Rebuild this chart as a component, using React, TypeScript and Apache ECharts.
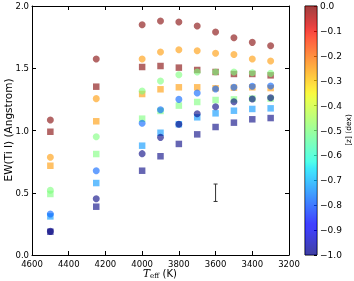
import React, { useEffect, useRef } from "react";
import * as echarts from "echarts";

const TEFF = [4500, 4250, 4000, 3900, 3800, 3700, 3600, 3500, 3400, 3300];

// metallicity of each group, [z] (dex)
const Z_SQUARES = [0, -0.25, -0.5, -0.73, -1.0];
const Z_CIRCLES = [0, -0.25, -0.5, -0.78, -1.0];

const SQ_Z0 = [0.99, 1.352, 1.51, 1.518, 1.505, 1.486, 1.47, 1.454, 1.454, 1.443];
const SQ_Z025 = [0.717, 1.074, 1.293, 1.331, 1.347, 1.347, 1.339, 1.344, 1.347, 1.341];
const SQ_Z05 = [0.49, 0.811, 1.095, 1.157, 1.2, 1.229, 1.245, 1.25, 1.256, 1.256];
const SQ_Z075 = [0.31, 0.578, 0.878, 0.982, 1.05, 1.106, 1.138, 1.159, 1.173, 1.178];
const SQ_Z1 = [0.187, 0.388, 0.677, 0.793, 0.892, 0.969, 1.028, 1.063, 1.09, 1.1];

const CI_Z0 = [1.084, 1.574, 1.85, 1.88, 1.871, 1.839, 1.791, 1.745, 1.708, 1.681];
const CI_Z025 = [0.785, 1.256, 1.574, 1.63, 1.649, 1.641, 1.62, 1.611, 1.574, 1.558];
const CI_Z05 = [0.52, 0.95, 1.317, 1.398, 1.448, 1.47, 1.47, 1.47, 1.464, 1.459];
const CI_Z075 = [0.33, 0.677, 1.058, 1.167, 1.25, 1.301, 1.333, 1.347, 1.355, 1.357];
const CI_Z1 = [0.19, 0.452, 0.814, 0.945, 1.05, 1.135, 1.191, 1.231, 1.253, 1.263];

const SQUARES = [SQ_Z0, SQ_Z025, SQ_Z05, SQ_Z075, SQ_Z1];
const CIRCLES = [CI_Z0, CI_Z025, CI_Z05, CI_Z075, CI_Z1];

// typical error bar
const ERR_X = [3600];
const ERR_Y = [0.5];
const ERR_HALF = [0.07];

const Y_TITLE = "EW(Ti I) (Angstrom)";
const CBAR_TITLE = "[z] (dex)";

const ALPHA = 0.75;

function interp(segs: number[][], x: number) {
  for (let i = 0; i < segs.length - 1; i++) {
    const [x0, y0] = segs[i];
    const [x1, y1] = segs[i + 1];
    if (x >= x0 && x <= x1) return y0 + ((y1 - y0) * (x - x0)) / (x1 - x0);
  }
  return segs[segs.length - 1][1];
}
function jet(t: number, a = ALPHA) {
  const r = interp([[0, 0], [0.35, 0], [0.66, 1], [0.89, 1], [1, 0.5]], t);
  const g = interp([[0, 0], [0.125, 0], [0.375, 1], [0.64, 1], [0.91, 0], [1, 0]], t);
  const b = interp([[0, 0.5], [0.11, 1], [0.34, 1], [0.65, 0], [1, 0]], t);
  return `rgba(${Math.round(r * 255)},${Math.round(g * 255)},${Math.round(b * 255)},${a})`;
}
const zToT = (z: number) => z + 1; // -1..0 -> 0..1

const FONT = "DejaVu Sans";
const fmtMinus = (v: number) => {
  const s = Math.abs(v) < 1e-9 ? "0.0" : v.toFixed(1);
  return s.replace("-", "\u2212");
};

export default function App() {
  const ref = useRef<HTMLDivElement>(null);
  useEffect(() => {
    if (!ref.current) return;
    const chart = echarts.init(ref.current, null, { renderer: "svg" });

    const squareSeries = SQUARES.map((vals, i) => ({
      type: "scatter",
      xAxisIndex: 0,
      yAxisIndex: 0,
      symbol: "rect",
      symbolSize: 6.5,
      itemStyle: { color: jet(zToT(Z_SQUARES[i])) },
      data: vals.map((v, j) => [TEFF[j], v]),
      z: 2,
    }));
    const circleSeries = CIRCLES.map((vals, i) => ({
      type: "scatter",
      xAxisIndex: 0,
      yAxisIndex: 0,
      symbol: "circle",
      symbolSize: 7,
      itemStyle: { color: jet(zToT(Z_CIRCLES[i])) },
      data: vals.map((v, j) => [TEFF[j], v]),
      z: 3,
    }));

    const stops = [];
    for (let k = 0; k <= 40; k++) {
      const off = k / 40;
      stops.push({ offset: off, color: jet(1 - off) });
    }

    const axisLineStyle = { color: "#000", width: 1 };
    const labelStyle = { color: "#000", fontSize: 8.5, fontFamily: FONT };

    chart.setOption({
      animation: false,
      grid: [
        { left: 32, right: 65, top: 6, bottom: 26, outerBoundsMode: "none", containLabel: false },
        {
          left: 305, width: 12, top: 6, bottom: 26, show: true, borderColor: "#000", borderWidth: 1,
          outerBoundsMode: "none", containLabel: false,
        },
      ],
      graphic: [
        {
          type: "text",
          x: 8,
          y: 130,
          rotation: Math.PI / 2,
          style: {
            text: Y_TITLE,
            align: "center",
            verticalAlign: "middle",
            fill: "#000",
            font: `10.5px "${FONT}"`,
          },
        },
        {
          type: "text",
          x: 160,
          y: 273,
          style: {
            text: "{it|T}{sub|eff} {n|(K)}",
            align: "center",
            verticalAlign: "middle",
            fill: "#000",
            rich: {
              it: { fontFamily: "DejaVu Serif", fontStyle: "italic", fontSize: 10.5, fill: "#000" },
              sub: { fontFamily: "DejaVu Serif", fontSize: 7, fill: "#000", padding: [5, 0, 0, 0] },
              n: { fontFamily: FONT, fontSize: 10, fill: "#000" },
            },
          },
        },
        {
          type: "text",
          x: 348,
          y: 130,
          rotation: Math.PI / 2,
          style: {
            text: CBAR_TITLE,
            align: "center",
            verticalAlign: "middle",
            fill: "#000",
            font: `7.5px "${FONT}"`,
          },
        },
      ],
      xAxis: [
        {
          type: "value",
          gridIndex: 0,
          min: 3200,
          max: 4600,
          interval: 200,
          inverse: true,
          position: "bottom",
          axisLine: { show: true, onZero: false, lineStyle: axisLineStyle },
          axisTick: { show: true, inside: true, length: 4, lineStyle: axisLineStyle },
          axisLabel: { ...labelStyle, margin: 4, formatter: (v: number) => String(v) },
          splitLine: { show: false },
        },
        {
          type: "value",
          gridIndex: 0,
          min: 3200,
          max: 4600,
          interval: 200,
          inverse: true,
          position: "top",
          axisLine: { show: true, onZero: false, lineStyle: axisLineStyle },
          axisTick: { show: true, inside: true, length: 4, lineStyle: axisLineStyle },
          axisLabel: { show: false },
          splitLine: { show: false },
        },
        {
          type: "category",
          gridIndex: 1,
          data: ["c"],
          show: false,
        },
      ],
      yAxis: [
        {
          type: "value",
          gridIndex: 0,
          min: 0,
          max: 2,
          interval: 0.5,
          position: "left",
          axisLine: { show: true, onZero: false, lineStyle: axisLineStyle },
          axisTick: { show: true, inside: true, length: 4, lineStyle: axisLineStyle },
          axisLabel: { ...labelStyle, margin: 3, formatter: (v: number) => v.toFixed(1) },
          splitLine: { show: false },
        },
        {
          type: "value",
          gridIndex: 0,
          min: 0,
          max: 2,
          interval: 0.5,
          position: "right",
          axisLine: { show: true, onZero: false, lineStyle: axisLineStyle },
          axisTick: { show: true, inside: true, length: 4, lineStyle: axisLineStyle },
          axisLabel: { show: false },
          splitLine: { show: false },
        },
        {
          type: "value",
          gridIndex: 1,
          min: -1,
          max: 0,
          interval: 0.1,
          position: "right",
          axisLine: { show: false },
          axisTick: { show: true, inside: true, length: 3, lineStyle: axisLineStyle },
          axisLabel: { ...labelStyle, fontSize: 9, margin: 3, formatter: (v: number) => fmtMinus(v) },
          splitLine: { show: false },
        },
      ],
      series: [
        ...squareSeries,
        ...circleSeries,
        {
          type: "custom",
          xAxisIndex: 0,
          yAxisIndex: 0,
          z: 4,
          data: ERR_X.map((x, i) => [x, ERR_Y[i], ERR_HALF[i]]),
          renderItem: (params: any, api: any) => {
            const x = api.value(0);
            const y = api.value(1);
            const h = api.value(2);
            const top = api.coord([x, y + h]);
            const bot = api.coord([x, y - h]);
            const st = { stroke: "#333", lineWidth: 1 };
            return {
              type: "group",
              children: [
                { type: "line", shape: { x1: top[0], y1: top[1], x2: bot[0], y2: bot[1] }, style: st },
                { type: "line", shape: { x1: top[0] - 2, y1: top[1], x2: top[0] + 2, y2: top[1] }, style: st },
                { type: "line", shape: { x1: bot[0] - 2, y1: bot[1], x2: bot[0] + 2, y2: bot[1] }, style: st },
              ],
            };
          },
        },
        {
          type: "bar",
          xAxisIndex: 2,
          yAxisIndex: 2,
          barWidth: "100%",
          data: [-1],
          itemStyle: {
            color: new echarts.graphic.LinearGradient(0, 0, 0, 1, stops),
          },
        },
      ],
    });
    return () => chart.dispose();
  }, []);
  return (
    <div
      ref={ref}
      style={{ position: "fixed", left: 0, top: 0, width: 354, height: 281 }}
    />
  );
}
